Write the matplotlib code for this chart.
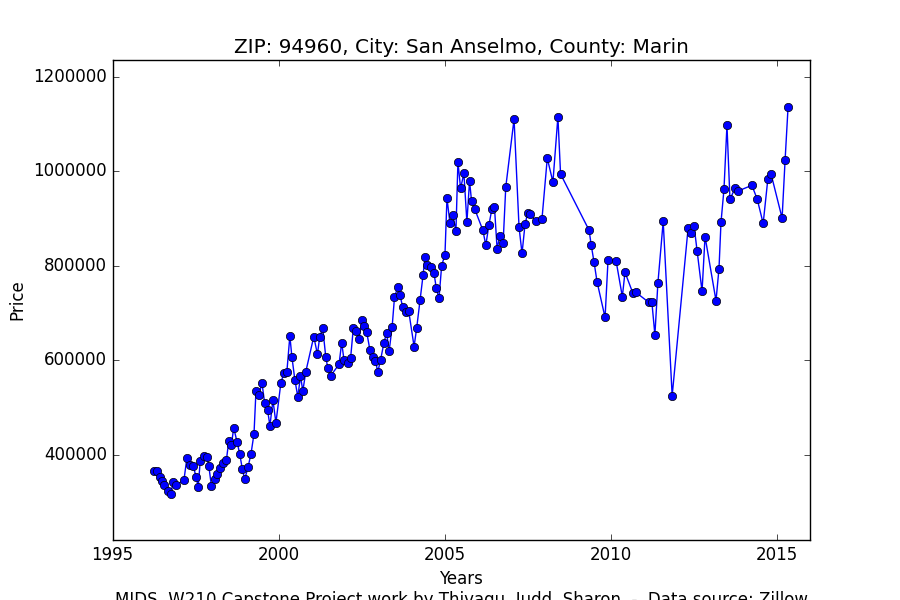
import matplotlib
matplotlib.use('Agg')
import matplotlib.pyplot as plt
from matplotlib.ticker import ScalarFormatter

# Configuration
ZIP_CODE = '94960'
CITY = 'San Anselmo'
COUNTY = 'Marin'
FOOTER = 'MIDS, W210 Capstone Project work by Thivagu, Judd, Sharon  -  Data source: Zillow'

# Sale dates (decimal years) and prices
years = [
    1996.25, 1996.34, 1996.42, 1996.50, 1996.55, 1996.67, 1996.76, 1996.82, 1996.91,
    1997.15, 1997.24, 1997.34, 1997.43, 1997.52, 1997.58, 1997.64, 1997.74, 1997.84,
    1997.90, 1997.98, 1998.08, 1998.16, 1998.25, 1998.34, 1998.43, 1998.50, 1998.58,
    1998.65, 1998.75, 1998.83, 1998.91, 1998.98, 1999.08, 1999.17, 1999.26, 1999.32,
    1999.41, 1999.50, 1999.58, 1999.67, 1999.74, 1999.83, 1999.92, 2000.07, 2000.16,
    2000.25, 2000.34, 2000.40, 2000.49, 2000.58, 2000.66, 2000.73, 2000.82, 2001.06,
    2001.17, 2001.24, 2001.33, 2001.42, 2001.48, 2001.57, 2001.82, 2001.90, 2001.97,
    2002.09, 2002.17, 2002.25, 2002.34, 2002.42, 2002.52, 2002.58, 2002.65, 2002.75,
    2002.83, 2002.91, 2002.99, 2003.07, 2003.17, 2003.25, 2003.33, 2003.42, 2003.49,
    2003.59, 2003.65, 2003.74, 2003.83, 2003.92, 2004.08, 2004.16, 2004.26, 2004.35,
    2004.41, 2004.48, 2004.58, 2004.68, 2004.75, 2004.83, 2004.91, 2005.01, 2005.07,
    2005.16, 2005.25, 2005.34, 2005.40, 2005.48, 2005.58, 2005.67, 2005.75, 2005.81,
    2005.91, 2006.15, 2006.24, 2006.33, 2006.42, 2006.50, 2006.58, 2006.66, 2006.76,
    2006.84, 2007.09, 2007.24, 2007.33, 2007.42, 2007.50, 2007.58, 2007.74, 2007.93,
    2008.09, 2008.26, 2008.41, 2008.49, 2009.35, 2009.41, 2009.50, 2009.59, 2009.83,
    2009.92, 2010.16, 2010.35, 2010.43, 2010.67, 2010.76, 2011.15, 2011.24, 2011.33,
    2011.42, 2011.58, 2011.85, 2012.33, 2012.43, 2012.51, 2012.60, 2012.75, 2012.84,
    2013.17, 2013.26, 2013.32, 2013.41, 2013.50, 2013.59, 2013.74, 2013.83, 2014.25,
    2014.41, 2014.59, 2014.73, 2014.83, 2015.16, 2015.25, 2015.34,
]

prices = [
    366000, 365400, 354300, 344100, 336300, 322900, 317200, 342700, 336300,
    346300, 393600, 378100, 376600, 352800, 331600, 386600, 397500, 395800,
    376200, 333500, 348600, 359000, 372400, 382400, 389400, 429700, 421900,
    457300, 427600, 402500, 369600, 348400, 374100, 402500, 444600, 535900,
    527400, 552500, 510400, 494500, 461600, 516200, 468000, 552900, 573700,
    576300, 652100, 608200, 559300, 522800, 567200, 535300, 576300, 650600,
    613000, 650600, 668300, 608200, 584800, 567800, 591800, 637900, 601100,
    595400, 606000, 668300, 663400, 645700, 686100, 674000, 661300, 622400,
    606700, 599700, 576300, 601100, 636400, 659100, 620300, 671900, 733500,
    756200, 739200, 712700, 702200, 703700, 629400, 669700, 728600, 780200,
    819900, 801400, 797200, 784400, 752600, 731300, 800800, 824200, 943700,
    890600, 907600, 873700, 1020200, 964300, 996200, 892800, 979900, 937400,
    919700, 875800, 843900, 885800, 919700, 924600, 836100, 863500, 847700,
    966700, 1110900, 882100, 826500, 888100, 911900, 909100, 894900, 899100,
    1028100, 977700, 1115800, 994700, 875400, 845400, 807400, 766000, 691000,
    813500, 811400, 735000, 786600, 742000, 744100, 722800, 722800, 654200,
    763200, 894500, 525300, 880000, 868800, 884300, 832700, 746200, 862400,
    726500, 794400, 892100, 962200, 1098200, 941000, 964300, 958600, 970700,
    941600, 890000, 983500, 994100, 901300, 1023800, 1137000,
]

x_ticks = [1995, 2000, 2005, 2010, 2015]
y_ticks = [400000, 600000, 800000, 1000000, 1200000]

plt.style.use('classic')

fig = plt.figure(figsize=(9, 6), facecolor='white')
ax = fig.add_subplot(1, 1, 1)

ax.plot(years, prices, 'o-', color='b', markersize=6,
        markeredgecolor='k', markeredgewidth=0.5, linewidth=1)

ax.set_xlim(1995, 2016)
ax.set_ylim(220000, 1236000)
ax.set_xticks(x_ticks)
ax.set_yticks(y_ticks)

# plain numbers on both axes, no offset text
for axis in (ax.xaxis, ax.yaxis):
    fmt = ScalarFormatter(useOffset=False)
    fmt.set_scientific(False)
    axis.set_major_formatter(fmt)

ax.set_title(f'ZIP: {ZIP_CODE}, City: {CITY}, County: {COUNTY}')
ax.set_ylabel('Price')
ax.set_xlabel('Years\n' + FOOTER)

plt.savefig('out.png', dpi=100, facecolor='white')
